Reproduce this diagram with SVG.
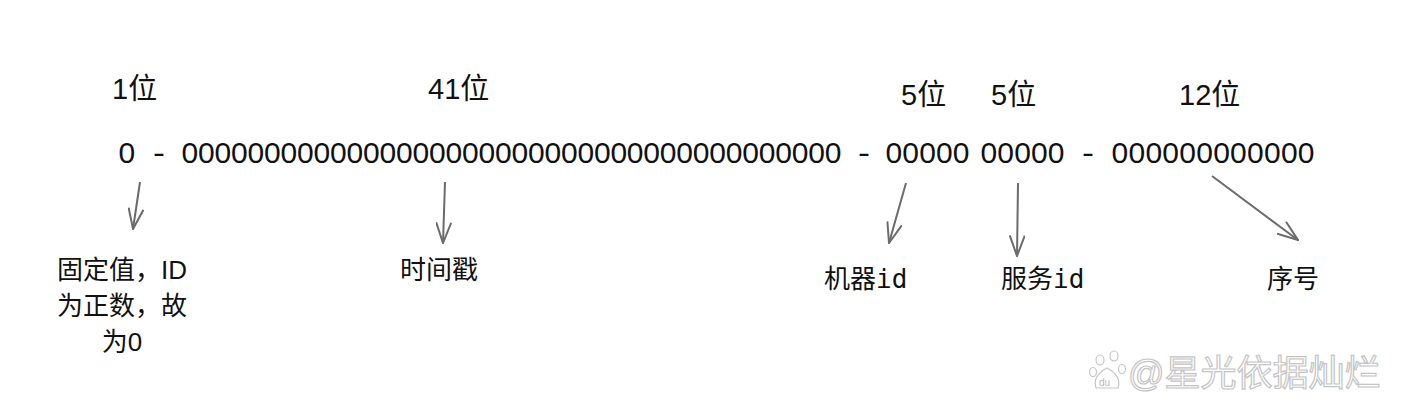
<svg xmlns="http://www.w3.org/2000/svg" width="1417" height="418" viewBox="0 0 1417 418">
<style>
text{font-family:"Liberation Sans","Noto Sans CJK SC",sans-serif;fill:#111}
.bits{font-size:29px}
.row{font-size:30px}
.lbl{font-size:26px}
.mono{font-family:"DejaVu Sans Mono","Liberation Mono",monospace}
.arr{stroke:#6b6b6b;stroke-width:2;fill:none;marker-end:url(#v)}
.wm{font-size:36px;fill:#fff;stroke:#c4c4c4;stroke-width:1.2}
</style>
<defs>
<marker id="v" markerUnits="userSpaceOnUse" viewBox="0 0 22 16" refX="21" refY="8" markerWidth="22" markerHeight="16" orient="auto">
<path d="M0.5,0.5 L21,8 L0.5,15.5" fill="none" stroke="#6b6b6b" stroke-width="2"/>
</marker>
</defs>
<rect width="1417" height="418" fill="#fff"/>
<g id="bit-labels">
<text class="bits" x="112" y="99">1位</text>
<text class="bits" x="428" y="99">41位</text>
<text class="bits" x="901" y="105">5位</text>
<text class="bits" x="991" y="105">5位</text>
<text class="bits" x="1179" y="105">12位</text>
</g>
<g id="id-row">
<text class="row" x="118.5" y="163">0</text>
<text class="row" x="153" y="163" textLength="12" lengthAdjust="spacingAndGlyphs">-</text>
<text class="row" x="181.5" y="163" textLength="660">0000000000000000000000000000000000000000</text>
<text class="row" x="858" y="163" textLength="12" lengthAdjust="spacingAndGlyphs">-</text>
<text class="row" x="885.5" y="163" textLength="84">00000</text>
<text class="row" x="980.5" y="163" textLength="84">00000</text>
<text class="row" x="1082" y="163" textLength="12" lengthAdjust="spacingAndGlyphs">-</text>
<text class="row" x="1111.5" y="163" textLength="203">000000000000</text>
</g>
<g id="connectors">
<line class="arr" x1="140" y1="182" x2="133" y2="229"/>
<line class="arr" x1="445" y1="182" x2="443" y2="243"/>
<line class="arr" x1="906" y1="183" x2="889" y2="243"/>
<line class="arr" x1="1018" y1="183" x2="1017" y2="256"/>
<line class="arr" x1="1212" y1="176" x2="1298" y2="240"/>
</g>
<g id="node-fixed">
<text class="lbl" text-anchor="middle" x="122" y="279">固定值，ID</text>
<text class="lbl" text-anchor="middle" x="122" y="315">为正数，故</text>
<text class="lbl" text-anchor="middle" x="122" y="351">为0</text>
</g>
<g id="node-timestamp">
<text class="lbl" x="400" y="279">时间戳</text>
</g>
<g id="node-machine">
<text class="lbl" x="824" y="288">机器<tspan class="mono">id</tspan></text>
</g>
<g id="node-service">
<text class="lbl" x="1001" y="288">服务<tspan class="mono">id</tspan></text>
</g>
<g id="node-sequence">
<text class="lbl" x="1267" y="288">序号</text>
</g>
<g id="watermark">
<g fill="#fff" stroke="#c4c4c4" stroke-width="1.2">
<ellipse cx="1100" cy="360" rx="4" ry="5"/>
<ellipse cx="1114" cy="356" rx="4" ry="5"/>
<ellipse cx="1093" cy="372" rx="3.5" ry="4.5"/>
<ellipse cx="1122" cy="369" rx="3.5" ry="4.5"/>
<path d="M1096,388 Q1092,376 1107,368 Q1122,376 1118,388 Z"/>
</g>
<text x="1099" y="386" font-size="10" style="font-family:'Liberation Sans',sans-serif;fill:#b8b8b8">du</text>
<text class="wm" x="1128" y="386">@星光依据灿烂</text>
</g>
</svg>
